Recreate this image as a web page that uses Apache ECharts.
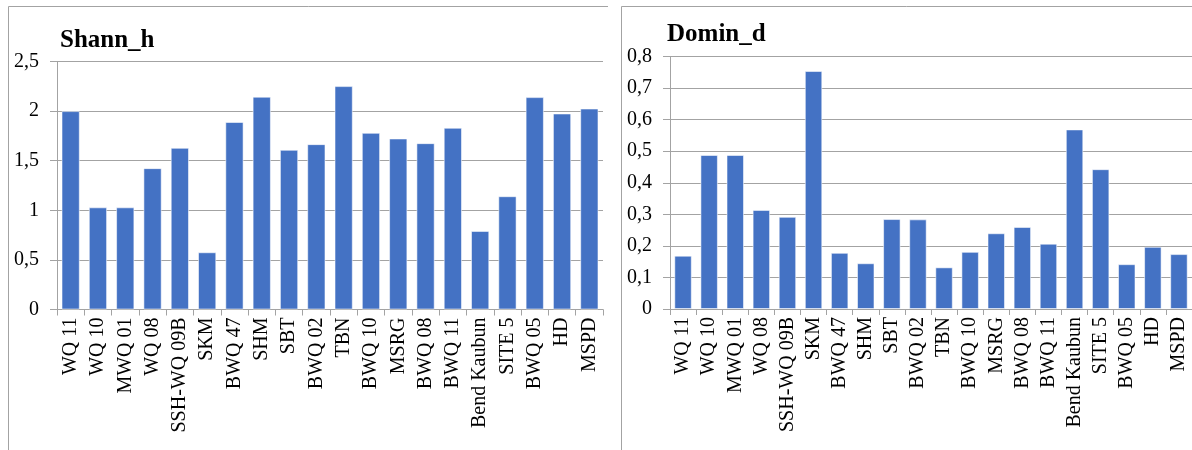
<!DOCTYPE html>
<html>
<head>
<meta charset="utf-8">
<style>
  html, body { margin: 0; padding: 0; background: #fff; }
  #chart { width: 1192px; height: 450px; }
</style>
<script src="https://cdn.jsdelivr.net/npm/echarts@6/dist/echarts.min.js"></script>
</head>
<body>
<div id="chart"></div>
<script>
// Sampling stations (shared by both panels)
const stations = ['WQ 11', 'WQ 10', 'MWQ 01', 'WQ 08', 'SSH-WQ 09B', 'SKM', 'BWQ 47', 'SHM', 'SBT', 'BWQ 02',
  'TBN', 'BWQ 10', 'MSRG', 'BWQ 08', 'BWQ 11', 'Bend Kaubun', 'SITE 5', 'BWQ 05', 'HD', 'MSPD'];

// Shannon diversity index (H)
const shannH = [2.00, 1.03, 1.03, 1.425, 1.63, 0.577, 1.89, 2.145, 1.61, 1.667,
  2.252, 1.781, 1.724, 1.677, 1.832, 0.792, 1.142, 2.141, 1.976, 2.026];

// Dominance index (D)
const dominD = [0.169, 0.488, 0.488, 0.314, 0.292, 0.754, 0.178, 0.145, 0.285, 0.284,
  0.132, 0.181, 0.240, 0.260, 0.207, 0.569, 0.443, 0.142, 0.197, 0.174];

// Y-axis ranges
const shannAxis = { max: 2.5, step: 0.5 };
const dominAxis = { max: 0.8, step: 0.1 };

const serif = '"Liberation Serif", "Times New Roman", serif';
const lineGrey = '#a3a3a3';
const barBlue = '#4472C4';

const fmtComma = v => String(+v.toFixed(2)).replace('.', ',');

function xAxis(gridIndex) {
  return {
    type: 'category',
    gridIndex,
    data: stations,
    axisLine: { lineStyle: { color: lineGrey, width: 1 } },
    axisTick: { show: true, length: 6, lineStyle: { color: lineGrey } },
    axisLabel: {
      interval: 0, rotate: 90, margin: 8,
      fontFamily: serif, fontSize: 20, color: '#000'
    }
  };
}

function yAxis(gridIndex, cfg) {
  return {
    type: 'value',
    gridIndex,
    min: 0, max: cfg.max, interval: cfg.step,
    axisLine: { show: true, lineStyle: { color: lineGrey, width: 1 } },
    axisTick: { show: true, length: 7, lineStyle: { color: lineGrey } },
    splitLine: { lineStyle: { color: lineGrey, width: 1 } },
    axisLabel: {
      margin: 18, fontFamily: serif, fontSize: 20, color: '#000',
      formatter: fmtComma
    }
  };
}

function bars(idx, values) {
  return {
    type: 'bar',
    xAxisIndex: idx, yAxisIndex: idx,
    data: values,
    barCategoryGap: '33%',
    itemStyle: { color: barBlue, borderColor: 'rgba(255,255,255,0.55)', borderWidth: 1 },
    silent: true
  };
}

const chart = echarts.init(document.getElementById('chart'), null, { renderer: 'canvas' });

chart.setOption({
  animation: false,
  backgroundColor: '#fff',
  title: [
    { text: 'Shann_h', left: 55, top: 23,
      textStyle: { fontFamily: serif, fontSize: 25, fontWeight: 'bold', color: '#000' } },
    { text: 'Domin_d', left: 662, top: 17,
      textStyle: { fontFamily: serif, fontSize: 25, fontWeight: 'bold', color: '#000' } }
  ],
  grid: [
    { left: 57, top: 61.5, width: 546, height: 248, containLabel: false },
    { left: 670, top: 56.5, width: 525.6, height: 252.5, containLabel: false }
  ],
  xAxis: [xAxis(0), xAxis(1)],
  yAxis: [yAxis(0, shannAxis), yAxis(1, dominAxis)],
  series: [bars(0, shannH), bars(1, dominD)],
  graphic: [
    // panel frames
    { type: 'polyline', silent: true,
      shape: { points: [[8.5, 450], [8.5, 6.5], [608, 6.5]] },
      style: { stroke: lineGrey, lineWidth: 1, fill: null } },
    { type: 'polyline', silent: true,
      shape: { points: [[621.5, 450], [621.5, 6.5], [1192, 6.5]] },
      style: { stroke: lineGrey, lineWidth: 1, fill: null } }
  ]
});
</script>
</body>
</html>
